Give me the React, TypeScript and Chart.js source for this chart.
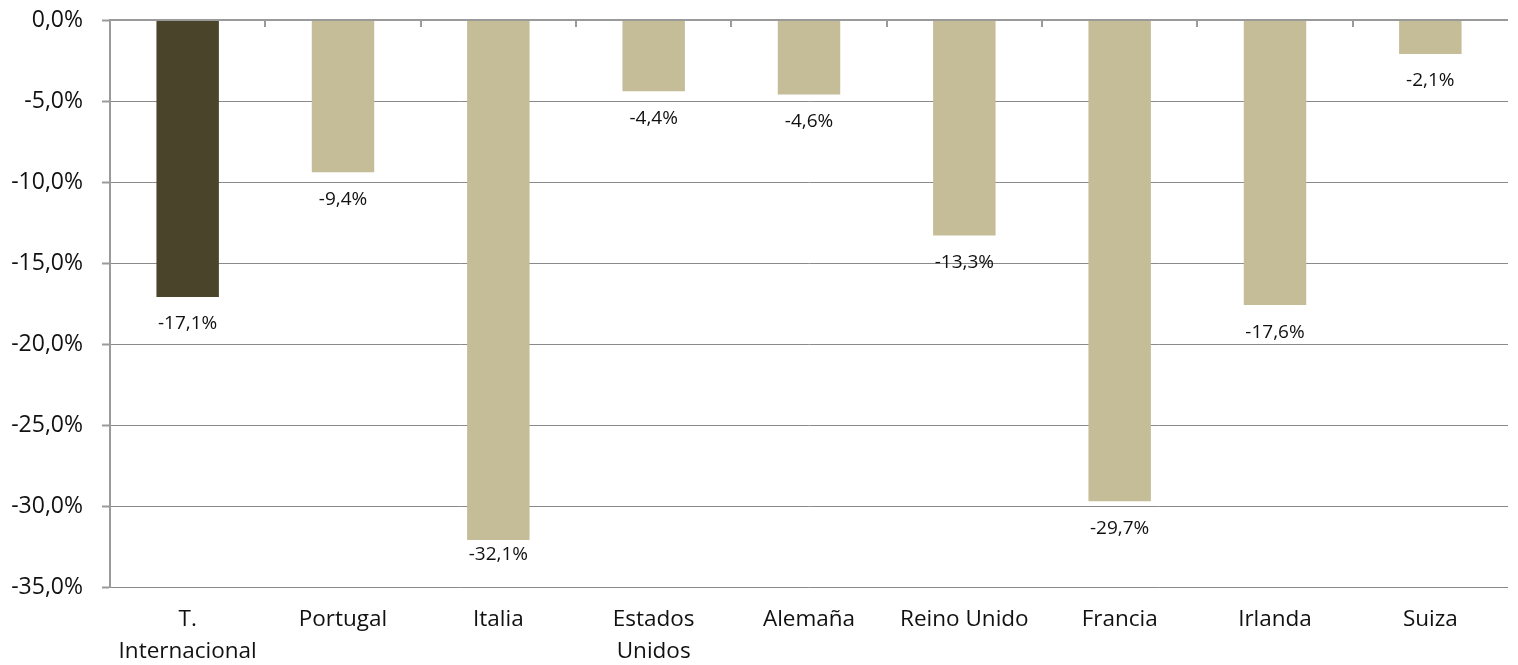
import React, { useEffect, useRef } from "react";
import { Chart, registerables } from "chart.js";

Chart.register(...registerables);

const categories: (string | string[])[] = [
  ["T.", "Internacional"],
  "Portugal",
  "Italia",
  ["Estados", "Unidos"],
  "Alemaña",
  "Reino Unido",
  "Francia",
  "Irlanda",
  "Suiza",
];
const values: number[] = [-17.1, -9.4, -32.1, -4.4, -4.6, -13.3, -29.7, -17.6, -2.1];
const barColors: string[] = ["#4A452A", "#C4BD97", "#C4BD97", "#C4BD97", "#C4BD97", "#C4BD97", "#C4BD97", "#C4BD97", "#C4BD97"];
const yTicks: number[] = [0, -5, -10, -15, -20, -25, -30, -35];

const FONT = "'Open Sans', 'Noto Sans', sans-serif";
const GRAY = "#9a9a9a";

const fmt = (v: number) => v.toFixed(1).replace(".", ",") + "%";

const decorPlugin = {
  id: "decor",
  afterDatasetsDraw(chart: any) {
    const { ctx, chartArea, scales } = chart;
    const x = scales.x;
    const y = scales.y;
    const y0 = y.getPixelForValue(0);
    ctx.save();
    ctx.strokeStyle = GRAY;
    ctx.lineWidth = 2;
    ctx.beginPath();
    ctx.moveTo(chartArea.left, y0);
    ctx.lineTo(chartArea.right, y0);
    ctx.stroke();
    for (let i = 1; i < categories.length; i++) {
      const px = Math.round((x.getPixelForValue(i - 1) + x.getPixelForValue(i)) / 2);
      ctx.beginPath();
      ctx.moveTo(px, y0);
      ctx.lineTo(px, y0 + 7);
      ctx.stroke();
    }
    const meta = chart.getDatasetMeta(0);
    ctx.fillStyle = "#111";
    ctx.font = `19px ${FONT}`;
    ctx.textAlign = "center";
    ctx.textBaseline = "middle";
    meta.data.forEach((bar: any, i: number) => {
      const ly = Math.min(bar.y + 27, chartArea.bottom - 32);
      ctx.fillText(fmt(values[i]), bar.x, ly);
    });
    ctx.restore();
  },
};

export default function App() {
  const ref = useRef<HTMLCanvasElement | null>(null);
  useEffect(() => {
    if (!ref.current) return;
    const chart = new Chart(ref.current, {
      type: "bar",
      data: {
        labels: categories as any,
        datasets: [
          {
            data: values,
            backgroundColor: barColors,
            borderWidth: 0,
            barPercentage: 0.402,
            categoryPercentage: 1,
          },
        ],
      },
      options: {
        animation: false,
        responsive: true,
        maintainAspectRatio: false,
        layout: { padding: { top: 20, right: 10, left: 0, bottom: 0 } },
        plugins: { legend: { display: false }, tooltip: { enabled: false } },
        scales: {
          x: {
            position: "bottom",
            grid: { display: false, drawTicks: false },
            border: { display: false },
            ticks: {
              color: "#111",
              font: { family: FONT, size: 22.5, lineHeight: 1.42 },
              padding: 17,
              maxRotation: 0,
              autoSkip: false,
            },
            afterFit: (s: any) => {
              s.height = 78;
            },
          },
          y: {
            min: -35,
            max: 0,
            afterBuildTicks: (s: any) => {
              s.ticks = yTicks.map((v) => ({ value: v }));
            },
            grid: {
              color: (c: any) => (c.tick && c.tick.value === 0 ? "rgba(0,0,0,0)" : "#8a8a8a"),
              borderDash: [1, 2],
              lineWidth: 1,
              drawTicks: true,
              tickLength: 8,
              tickColor: GRAY,
              tickWidth: 2,
              tickBorderDash: [],
            },
            border: { display: true, color: GRAY, width: 2 },
            ticks: {
              color: "#111",
              font: { family: FONT, size: 23 },
              padding: 19,
              callback: (v: any) => fmt(Number(v)),
            },
            afterFit: (s: any) => {
              s.width = 110;
              s.paddingTop = 0;
              s.paddingBottom = 0;
            },
          },
        },
      },
      plugins: [decorPlugin],
    });
    return () => chart.destroy();
  }, []);
  return (
    <div style={{ position: "fixed", left: 0, top: 0, width: 1518, height: 665, background: "#fff" }}>
      <canvas ref={ref} />
    </div>
  );
}
